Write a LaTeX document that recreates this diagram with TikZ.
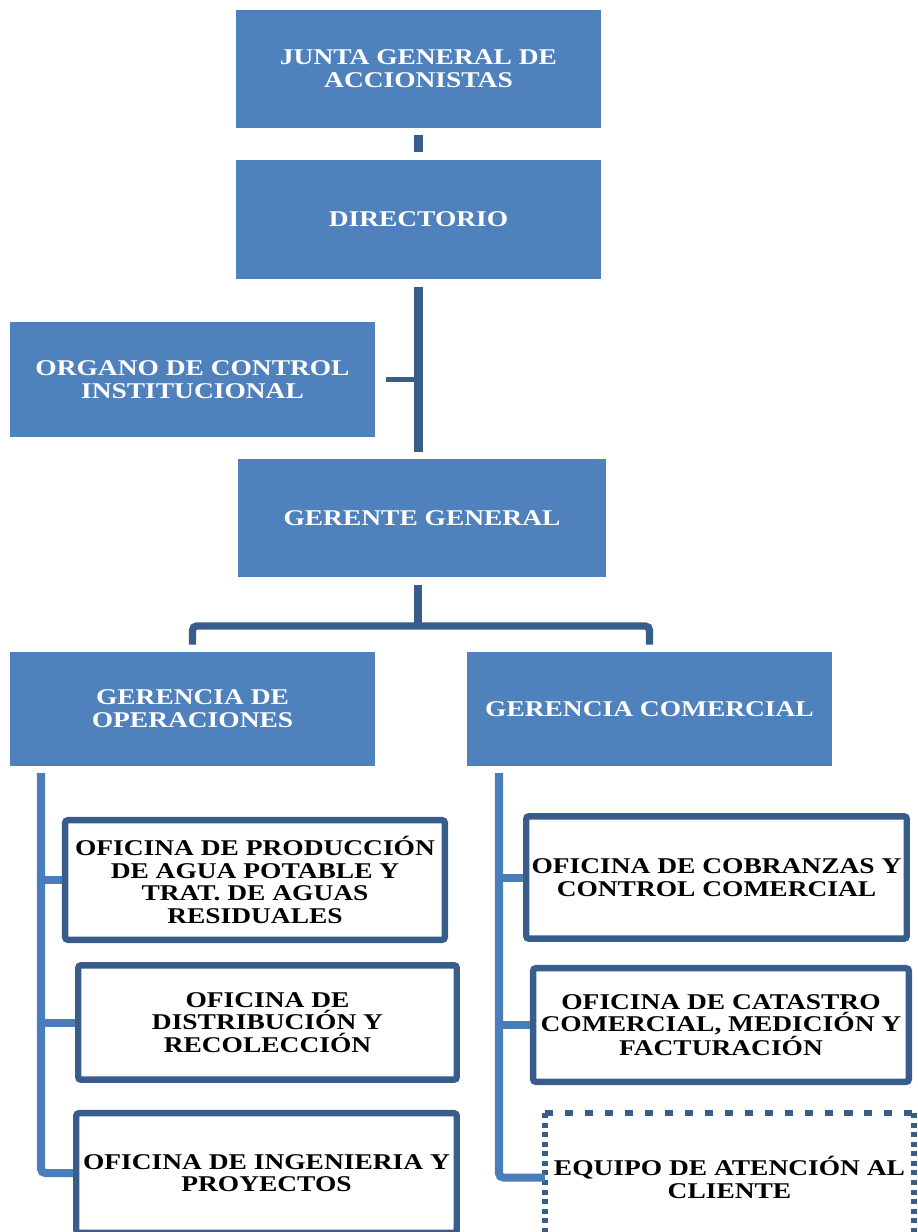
\documentclass[tikz,border=0pt]{standalone}
\usepackage{fontspec}
\setmainfont{Liberation Serif}[FakeStretch=1.22]

\definecolor{azulcaja}{HTML}{4F81BD}
\definecolor{azulborde}{HTML}{385D8A}
\definecolor{azuleje}{HTML}{4A7EBB}

\begin{document}
\begin{tikzpicture}[
    x=0.025cm, y=-0.025cm,
    cargo/.style={rectangle, fill=azulcaja, text=white, align=center, inner sep=1pt, minimum width=9.125cm, minimum height=2.95cm, font=\bfseries\fontsize{16}{16.2}\selectfont},
    oficina/.style={rectangle, draw=azulborde, line width=4.6pt, rounded corners=2pt, align=center, inner sep=1pt, font=\bfseries\fontsize{16}{16}\selectfont},
    equipo/.style={rectangle, align=center, inner sep=1pt, font=\bfseries\fontsize{16}{16}\selectfont},
    punteoH/.style={draw=azulborde, line width=4.6pt, dash pattern=on 5.7pt off 8.5pt},
    punteoV/.style={draw=azulborde, line width=4.6pt, dash pattern=on 3.6pt off 3.2pt},
    conector/.style={draw=azulborde, line width=6pt},
    rama/.style={draw=azuleje, line width=5.7pt, rounded corners=3pt}
]
\useasboundingbox (0,0) rectangle (918,1232);

% Cargos principales
\node[cargo] (jun) at (418.5,69) {JUNTA GENERAL DE\\ACCIONISTAS};
\node[cargo, minimum height=2.975cm] (dir) at (418.5,219.5) {DIRECTORIO};
\node[cargo, minimum height=2.875cm] (org) at (192.5,379.5) {ORGANO DE CONTROL\\INSTITUCIONAL};
\node[cargo, minimum width=9.2cm] (ger) at (422,518) {GERENTE GENERAL};
\node[cargo, minimum height=2.85cm] (ope) at (192.5,709) {GERENCIA DE\\OPERACIONES};
\node[cargo, minimum height=2.85cm] (com) at (649.5,709) {GERENCIA COMERCIAL};

% Oficinas de operaciones
\node[oficina, minimum width=9.49cm, minimum height=2.99cm] (ofi1) at (255,880) {OFICINA DE PRODUCCIÓN\\DE AGUA POTABLE Y\\TRAT. DE AGUAS\\RESIDUALES};
\node[oficina, minimum width=9.46cm, minimum height=2.86cm] (ofi2) at (267.5,1022.5) {OFICINA DE\\DISTRIBUCIÓN Y\\RECOLECCIÓN};
\node[oficina, minimum width=9.51cm, minimum height=2.99cm] (ofi3) at (266.5,1173) {OFICINA DE INGENIERIA Y\\PROYECTOS};

% Oficinas comerciales
\node[oficina, minimum width=9.51cm, minimum height=3.06cm] (ofi4) at (716.5,877.5) {OFICINA DE COBRANZAS Y\\CONTROL COMERCIAL};
\node[oficina, minimum width=9.39cm, minimum height=2.84cm] (ofi5) at (721,1025) {OFICINA DE CATASTRO\\COMERCIAL, MEDICIÓN Y\\FACTURACIÓN};
\node[equipo, minimum width=9.21cm, minimum height=3.21cm] (eq6) at (729.5,1177.5) {EQUIPO DE ATENCIÓN AL\\CLIENTE};
\draw[punteoH] (eq6.north west) -- (eq6.north east);
\draw[punteoH] (eq6.south west) -- (eq6.south east);
\draw[punteoV] (eq6.north west) -- (eq6.south west);
\draw[punteoV] (eq6.north east) -- (eq6.south east);

% Conexiones superiores
\draw[conector, shorten <=5pt, shorten >=5.5pt] (jun.south) -- (dir.north);
\draw[conector, shorten <=5.7pt, shorten >=5pt] (dir.south) -- (dir.south |- ger.north);
\draw[conector, line width=3.8pt, shorten <=7.8pt] (org.east) -- (org.east -| dir.south);

% Gerente a gerencias
\coordinate (bus) at (418,626);
\draw[conector, shorten <=5.7pt] (bus |- ger.south) -- (bus);
\draw[conector, line width=5.2pt, rounded corners=3pt, shorten <=5pt, shorten >=5pt] (ope.north) |- (bus) -| (com.north);

% Ejes de las gerencias
\coordinate (ejeIzq) at (41,773);
\coordinate (ejeDer) at (499,773);
\draw[rama] (ejeIzq) |- (ofi3.west);
\draw[rama] (ejeIzq |- ofi1.west) -- (ofi1.west);
\draw[rama] (ejeIzq |- ofi2.west) -- (ofi2.west);
\draw[rama] (ejeDer) |- (eq6.west);
\draw[rama] (ejeDer |- ofi4.west) -- (ofi4.west);
\draw[rama] (ejeDer |- ofi5.west) -- (ofi5.west);
\end{tikzpicture}
\end{document}
